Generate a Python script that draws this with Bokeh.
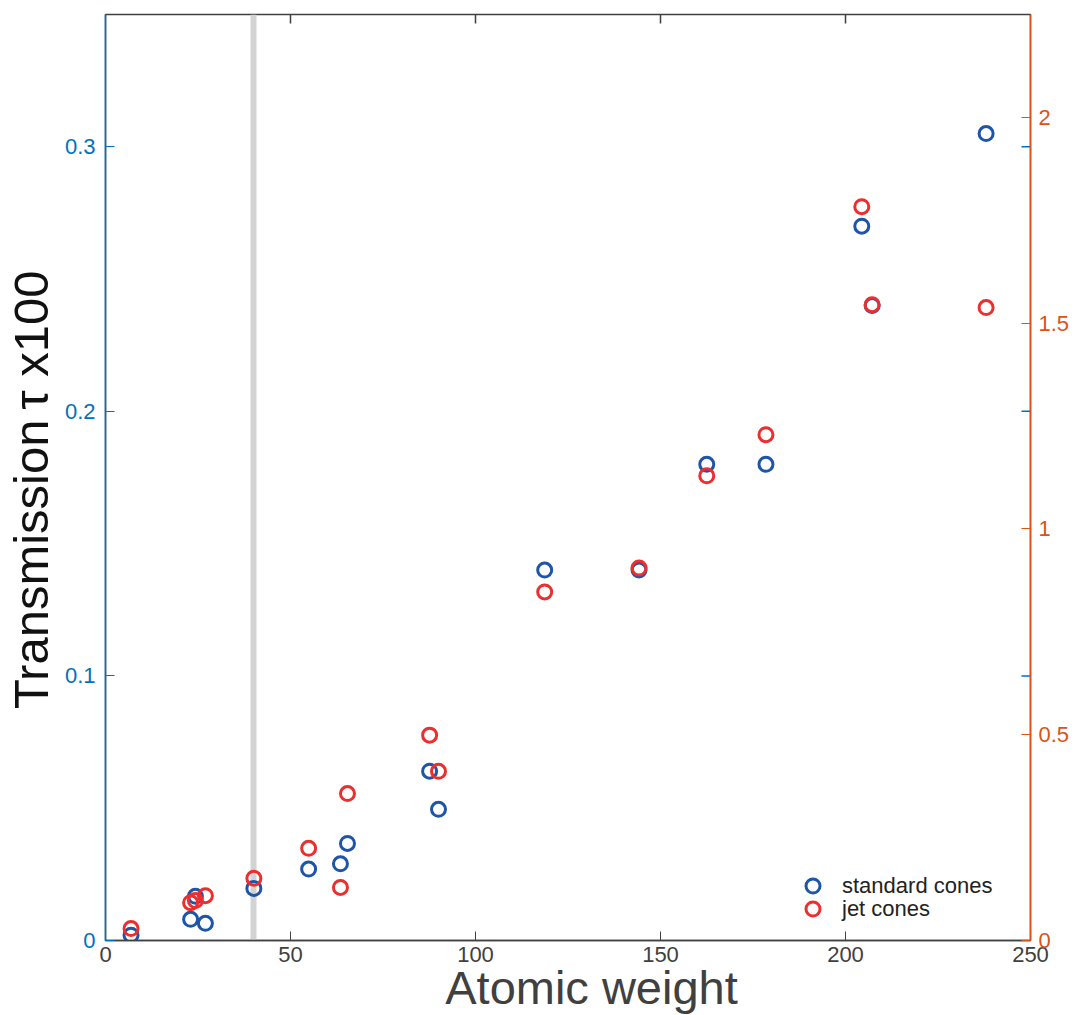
from bokeh.plotting import figure
from bokeh.models import (Range1d, LinearAxis, FixedTicker, CustomJSTickFormatter, Span,
                          Legend, LegendItem)
from bokeh.embed import file_html
from bokeh.resources import INLINE

# ---- data ----
atomic_weight = [6.9, 23.0, 24.3, 27.0, 40.1, 54.9, 63.5, 65.4, 87.6, 90.0,
                 118.7, 144.2, 162.5, 178.5, 204.4, 207.2, 238.0]
standard_cones = [0.002, 0.008, 0.0167, 0.0065, 0.0197, 0.027, 0.029, 0.0367, 0.064, 0.0496,
                  0.14, 0.14, 0.18, 0.18, 0.27, 0.24, 0.305]
jet_cones = [0.029, 0.092, 0.097, 0.109, 0.151, 0.224, 0.129, 0.357, 0.499, 0.411,
             0.847, 0.905, 1.129, 1.229, 1.783, 1.545, 1.538]
x_ticks = [0, 50, 100, 150, 200, 250]
left_ticks = [0, 0.1, 0.2, 0.3]
right_ticks = [0, 0.5, 1, 1.5, 2]
marker_line = 40  # vertical reference line

X_MAX, Y_MAX, Y2_MAX = 250, 0.35, 2.25
FW, FH = 925, 926
BLUE_AX = "#0072BD"
ORANGE_AX = "#D95319"
GRAY = "#404040"
FONT = "Liberation Sans"
TICK = 9

fmt = CustomJSTickFormatter(code="return String(Math.round(tick*1000)/1000);")

p = figure(frame_width=FW, frame_height=FH, x_range=Range1d(0, X_MAX), y_range=Range1d(0, Y_MAX),
           output_backend="svg", toolbar_location=None,
           min_border_left=0, min_border_right=0, min_border_top=14, min_border_bottom=0,
           x_axis_location=None, y_axis_location=None)
p.extra_y_ranges = {"right": Range1d(0, Y2_MAX)}
p.xgrid.visible = False
p.ygrid.visible = False
p.outline_line_color = GRAY
p.outline_line_width = 1.5
p.background_fill_color = "white"
p.border_fill_color = "white"

# bottom axis
xb = LinearAxis(ticker=FixedTicker(ticks=x_ticks), formatter=fmt,
                axis_label="\u2003Atomic weight")
xb.axis_line_color = GRAY
xb.axis_line_width = 1.5
xb.major_tick_line_color = GRAY
xb.major_tick_in = TICK
xb.major_tick_out = 0
xb.minor_tick_line_color = None
xb.major_label_text_color = GRAY
xb.major_label_text_font = FONT
xb.major_label_text_font_size = "22px"
xb.major_label_standoff = 6
xb.axis_label_text_font = FONT
xb.axis_label_text_font_style = "normal"
xb.axis_label_text_font_size = "47px"
xb.axis_label_text_color = GRAY
xb.axis_label_standoff = -4
p.add_layout(xb, "below")

# left axis
yl = LinearAxis(ticker=FixedTicker(ticks=left_ticks), formatter=fmt,
                axis_label="Transmission\u2009\u03c4 x100\u2002")
yl.axis_line_color = BLUE_AX
yl.axis_line_width = 1.5
yl.major_tick_line_color = BLUE_AX
yl.major_tick_in = TICK
yl.major_tick_out = 0
yl.minor_tick_line_color = None
yl.major_label_text_color = BLUE_AX
yl.major_label_text_font = FONT
yl.major_label_text_font_size = "22px"
yl.major_label_standoff = 10
yl.axis_label_text_font = FONT
yl.axis_label_text_font_style = "normal"
yl.axis_label_text_font_size = "49px"
yl.axis_label_text_color = "#111111"
yl.axis_label_standoff = 4
p.add_layout(yl, "left")

# right axis
yr = LinearAxis(y_range_name="right", ticker=FixedTicker(ticks=right_ticks), formatter=fmt)
yr.axis_line_color = ORANGE_AX
yr.axis_line_width = 1.5
yr.major_tick_line_color = ORANGE_AX
yr.major_tick_in = TICK
yr.major_tick_out = 0
yr.minor_tick_line_color = None
yr.major_label_text_color = ORANGE_AX
yr.major_label_text_font = FONT
yr.major_label_text_font_size = "22px"
yr.major_label_standoff = 8
p.add_layout(yr, "right")

# mirrored left-axis ticks on the right side
tl_x = TICK * X_MAX / FW
p.segment(x0=[X_MAX - tl_x] * 3, x1=[X_MAX] * 3,
          y0=left_ticks[1:], y1=left_ticks[1:], line_color=BLUE_AX, line_width=1.5)
# top ticks
tl_y = TICK * Y_MAX / FH
p.segment(x0=x_ticks[1:-1], x1=x_ticks[1:-1], y0=[Y_MAX - tl_y] * 4, y1=[Y_MAX] * 4,
          line_color=GRAY, line_width=1.5)

# vertical gray line
p.add_layout(Span(location=marker_line, dimension="height", line_color="#d3d3d3",
                  line_width=6, level="underlay"))

r_std = p.scatter(atomic_weight, standard_cones, size=14, fill_color=None, line_color="#1f55a8",
                  line_width=3)
r_jet = p.scatter(atomic_weight, jet_cones, size=14, fill_color=None, line_color="#ec2e2e",
                  line_width=3, y_range_name="right")


def make_legend(label, renderer, loc):
    lg = Legend(items=[LegendItem(label=label, renderers=[renderer])], location=loc)
    lg.border_line_alpha = 0
    lg.background_fill_alpha = 0
    lg.label_text_font = FONT
    lg.label_text_font_size = "22px"
    lg.label_text_color = "#222222"
    lg.glyph_width = 35
    lg.glyph_height = 35
    lg.label_height = 22
    lg.label_standoff = 12
    lg.padding = 0
    lg.margin = 0
    p.add_layout(lg)


make_legend("standard cones", r_std, (690, 37))
make_legend("jet cones", r_jet, (690, 14))

open("out.html", "w").write(file_html(p, INLINE))
